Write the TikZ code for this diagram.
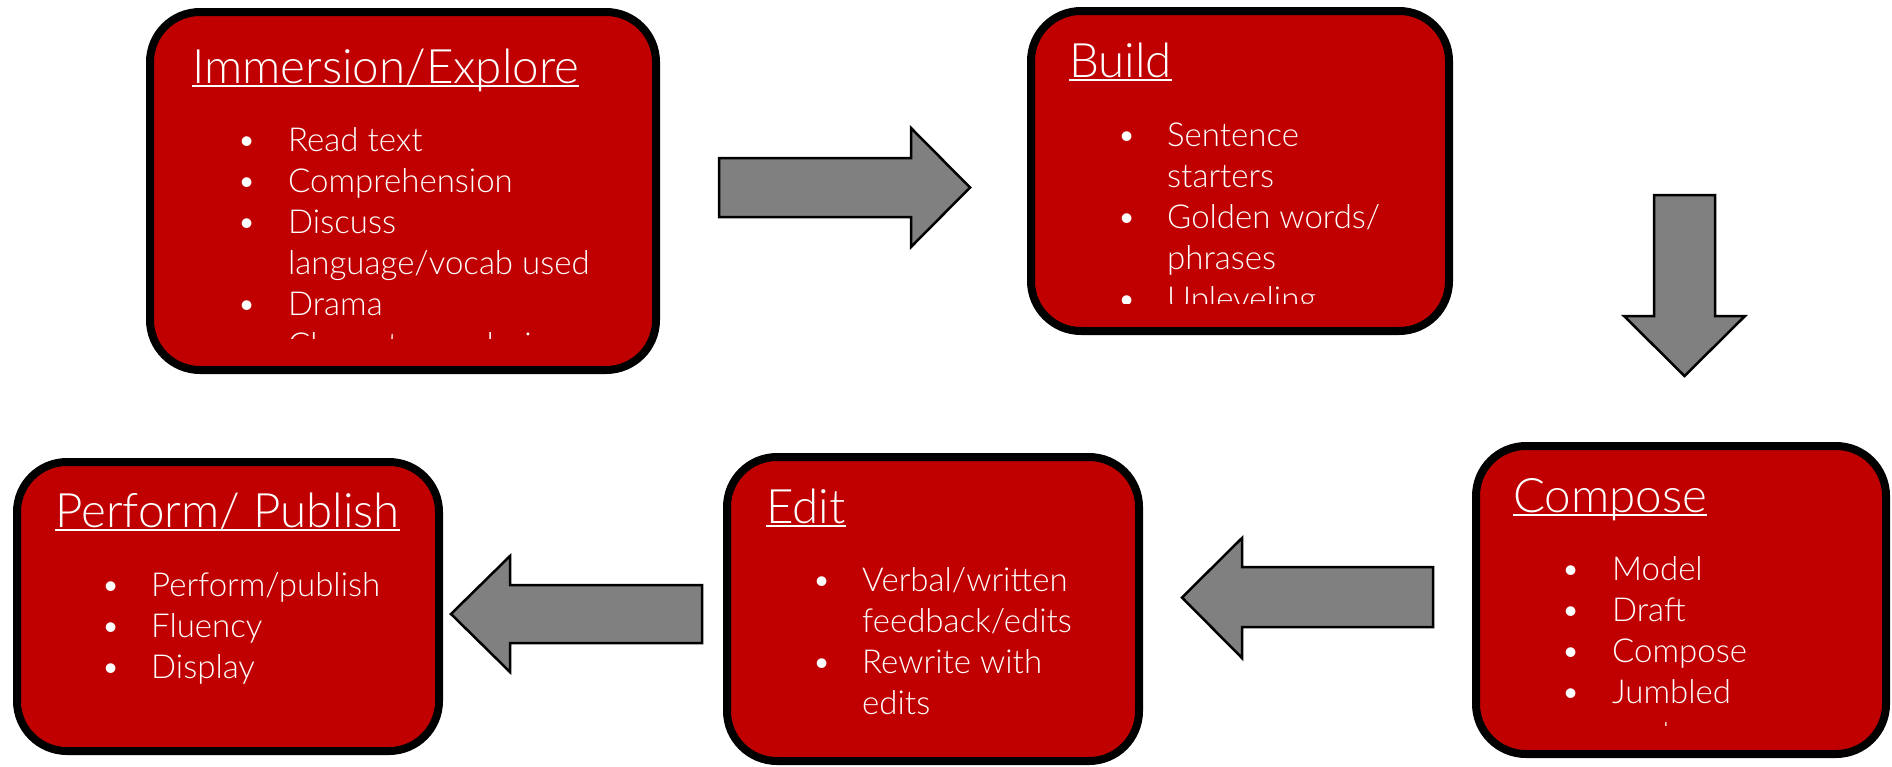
\documentclass[tikz,border=0pt]{standalone}
\usepackage{fontspec}
\IfFontExistsTF{Lato Light}{\setmainfont{Lato Light}}{\setmainfont{Lato}}
\usepackage{array}
\definecolor{stagered}{HTML}{C00000}
\definecolor{arrowgrey}{HTML}{808080}

% one bulleted line and one continuation line of a stage list
\newcommand{\bline}[1]{\textbullet & #1\\}
\newcommand{\contline}[1]{ & #1\\}
\newcommand{\stagelist}[2]{%
  {\fontsize{33}{41}\selectfont
   \begin{tabular}[t]{@{}p{#1}@{}l@{}}#2\end{tabular}}}

\tikzset{
  stagebox/.style={draw=black, line width=8pt, fill=stagered,
    rounded corners=50pt, inner sep=0pt},
  stagetitle/.style={text=white, inner sep=0pt, anchor=base west,
    font=\fontsize{47.5}{55}\selectfont},
  stagetext/.style={text=white, inner sep=0pt, anchor=base west},
  titlerule/.style={white, line width=2.2pt},
  blockarrow/.style={draw=black, line width=2.5pt, fill=arrowgrey,
    line join=miter},
}

\begin{document}
\begin{tikzpicture}[x=1pt, y=-1pt]
\useasboundingbox (0,0) rectangle (1892,766);

% ---------- stage boxes ----------
\node[stagebox, minimum width=506pt, minimum height=358pt] (immersion) at (403,191) {};
\node[stagebox, minimum width=418pt, minimum height=320pt] (build)     at (1240,171) {};
\node[stagebox, minimum width=410pt, minimum height=308pt] (compose)   at (1681,600) {};
\node[stagebox, minimum width=412pt, minimum height=304pt] (edit)      at (933,609) {};
\node[stagebox, minimum width=422pt, minimum height=289pt] (perform)   at (228,606.5) {};

% ---------- titles ----------
\node[stagetitle] (immersion-title) at (192,83)  {Immersion/Explore};
\node[stagetitle] (build-title)     at (1069,77) {Build};
\node[stagetitle] (compose-title)   at (1513,512) {Compose};
\node[stagetitle] (edit-title)      at (766,523) {Edit};
\node[stagetitle] (perform-title)   at (55,527)  {Perform/ Publish};

\foreach \t in {immersion-title, build-title, compose-title, edit-title, perform-title}
  \draw[titlerule] ([yshift=-3pt]\t.base west) -- ([yshift=-3pt]\t.base east);

% ---------- lists (overflowing lines are cut at the box text area) ----------
\begin{scope}
  \clip (150,12) rectangle (656,338);
  \node[stagetext] (immersion-list) at (237,151) {\stagelist{51pt}{%
    \bline{Read text}
    \bline{Comprehension}
    \bline{Discuss}
    \contline{language/vocab used}
    \bline{Drama}
    \bline{Character analysis}}};
\end{scope}

\begin{scope}
  \clip (1031,11) rectangle (1449,303);
  \node[stagetext] (build-list) at (1117,146) {\stagelist{50pt}{%
    \bline{Sentence}
    \contline{starters}
    \bline{Golden words/}
    \contline{phrases}
    \bline{Upleveling}}};
\end{scope}

\begin{scope}
  \clip (1476,446) rectangle (1886,725);
  \node[stagetext] (compose-list) at (1561,580) {\stagelist{51pt}{%
    \bline{Model}
    \bline{Draft}
    \bline{Compose}
    \bline{Jumbled}
    \contline{sentences}}};
\end{scope}

\node[stagetext] (edit-list) at (812,591) {\stagelist{50pt}{%
  \bline{Verbal/written}
  \contline{feedback/edits}
  \bline{Rewrite with}
  \contline{edits}}};

\node[stagetext] (perform-list) at (101,596) {\stagelist{50pt}{%
  \bline{Perform/publish}
  \bline{Fluency}
  \bline{Display}}};

% ---------- block arrows between stages ----------
% Immersion -> Build
\draw[blockarrow] (719,158) -- (911,158) -- (911,128) -- (970,187.5)
  -- (911,247) -- (911,217) -- (719,217) -- cycle;
% Build -> Compose
\draw[blockarrow] (1654,195) -- (1715,195) -- (1715,316) -- (1745,316)
  -- (1684.5,376) -- (1624,316) -- (1654,316) -- cycle;
% Compose -> Edit
\draw[blockarrow] (1433,567) -- (1242,567) -- (1242,538) -- (1182,597.5)
  -- (1242,658) -- (1242,627) -- (1433,627) -- cycle;
% Edit -> Perform
\draw[blockarrow] (702,585) -- (510,585) -- (510,556) -- (451,614)
  -- (510,672) -- (510,643) -- (702,643) -- cycle;
\end{tikzpicture}
\end{document}
